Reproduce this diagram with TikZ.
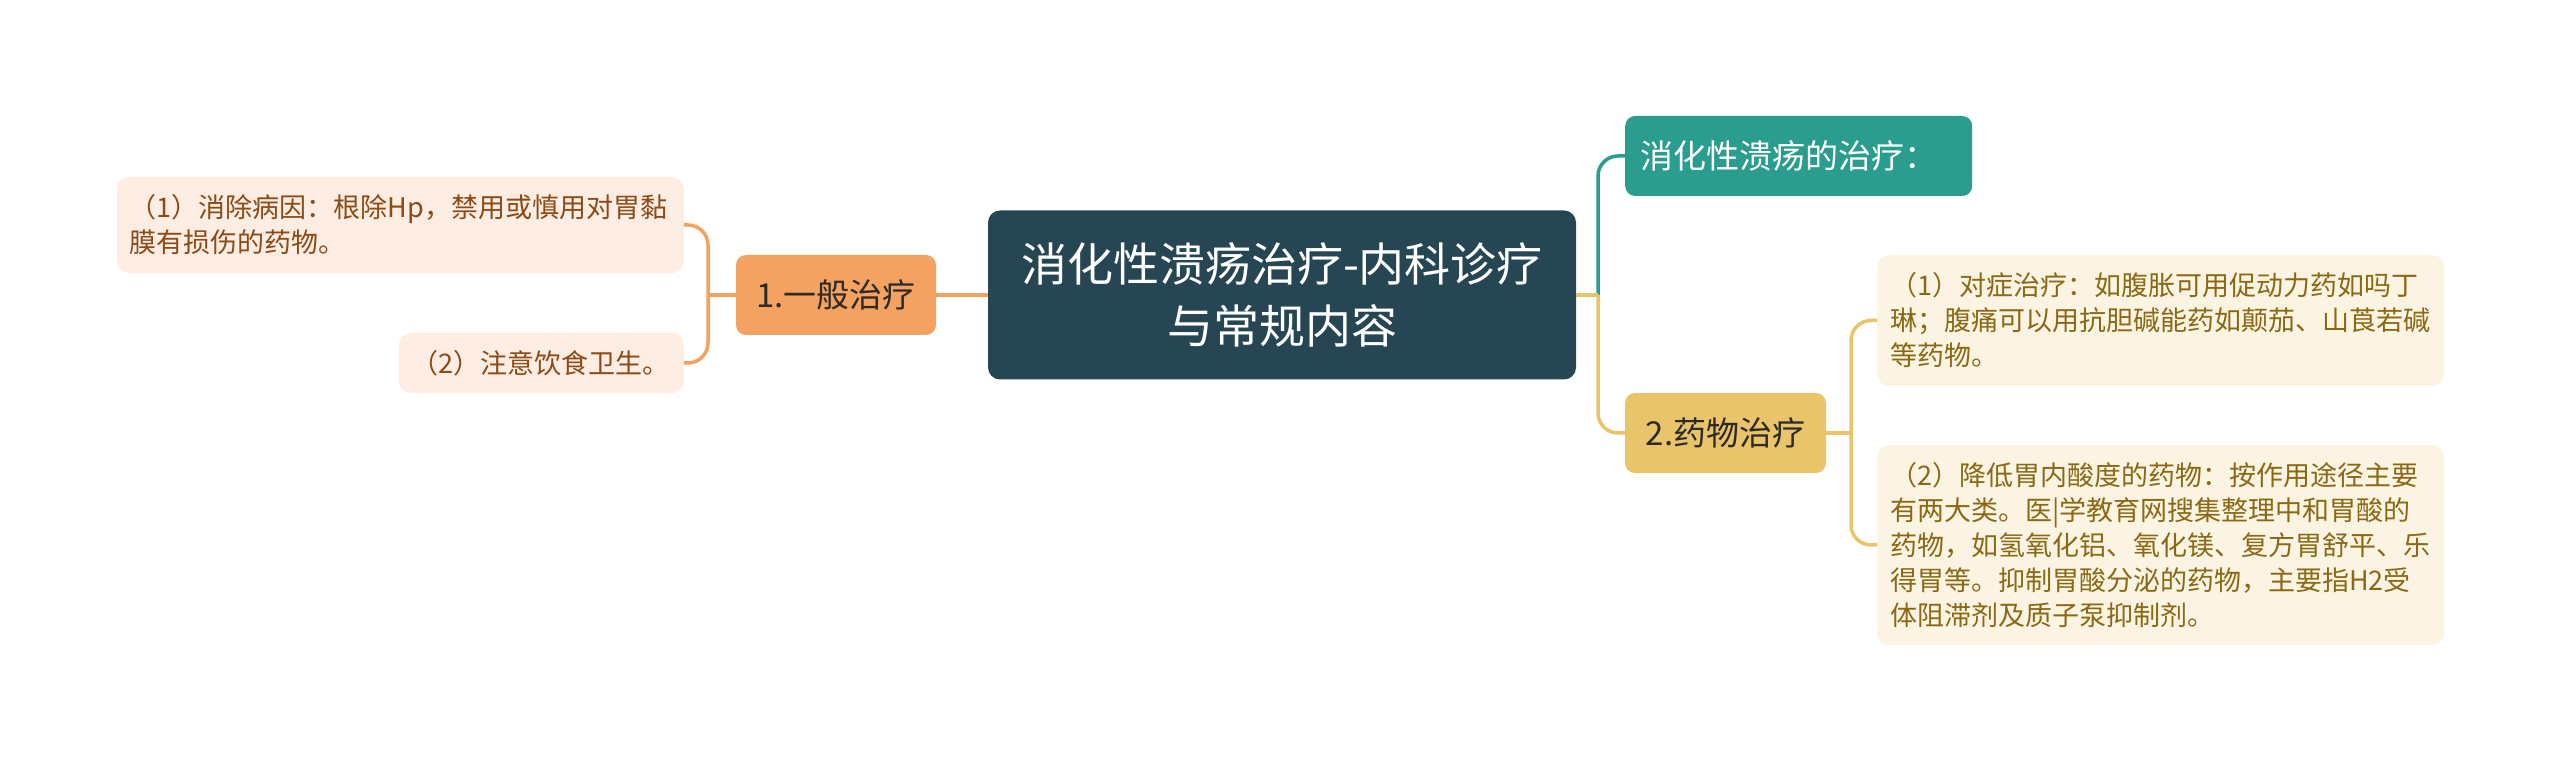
\documentclass[tikz,border=0pt]{standalone}
\usepackage{fontspec}
\setmainfont{Noto Sans CJK SC}
\usepackage{xcolor}
\usetikzlibrary{positioning}
\definecolor{rootc}{HTML}{264653}
\definecolor{tealc}{HTML}{2A9D8F}
\definecolor{yelc}{HTML}{E9C46A}
\definecolor{orc}{HTML}{F4A261}
\definecolor{leafof}{HTML}{FEEDE2}
\definecolor{leafot}{HTML}{8C4A16}
\definecolor{leafyf}{HTML}{FBF4E3}
\definecolor{leafyt}{HTML}{8B6914}
\definecolor{darkt}{HTML}{2E2A25}

\begin{document}
\begin{tikzpicture}[x=1pt, y=1pt,
rootbox/.style={fill=rootc, rounded corners=12pt, text=white, align=center, inner sep=0pt, minimum width=588pt, minimum height=169pt, font=\fontsize{46}{62}\selectfont},
topic/.style={rounded corners=10pt, inner sep=0pt, minimum height=80pt, font=\fontsize{33}{40}\selectfont},
leaf/.style={rounded corners=12pt, inner xsep=13pt, inner ysep=0pt, align=left, font=\fontsize{27}{35}\selectfont},
leafo/.style={leaf, fill=leafof, text=leafot},
leafy/.style={leaf, fill=leafyf, text=leafyt},
lo/.style={draw=orc, line width=3.5pt, rounded corners=20pt},
ly/.style={draw=yelc, line width=3.5pt, rounded corners=20pt},
lt/.style={draw=tealc, line width=3.5pt, rounded corners=20pt}]
\useasboundingbox (0,0) rectangle (2560,761);
\node[rootbox] (root) at (1282,466) {消化性溃疡治疗-内科诊疗\\与常规内容};
\node[topic, fill=orc, text=darkt, minimum width=200pt] (gen) at (836,466) {1.一般治疗};
\node[topic, fill=tealc, text=white, anchor=west, inner xsep=15pt, text width=317pt, align=left] (cure) at (1625,605) {消化性溃疡的治疗：};
\node[topic, fill=yelc, text=darkt, minimum width=201pt] (drug) at (1725.5,328) {2.药物治疗};
\node[leafo, anchor=east, text width=541pt, minimum height=96pt] (lc1) at (684,536) {（1）消除病因：根除Hp，禁用或慎用对胃黏\\膜有损伤的药物。};
\node[leafo, anchor=east, text width=259pt, minimum height=60pt] (lc2) at (684,398) {（2）注意饮食卫生。};
\node[leafy, anchor=west, text width=541pt, minimum height=131pt] (rc1) at (1877,440.5) {（1）对症治疗：如腹胀可用促动力药如吗丁\\琳；腹痛可以用抗胆碱能药如颠茄、山莨若碱\\等药物。};
\node[leafy, anchor=west, text width=541pt, minimum height=200pt] (rc2) at (1877,216) {（2）降低胃内酸度的药物：按作用途径主要\\有两大类。医|学教育网搜集整理中和胃酸的\\药物，如氢氧化铝、氧化镁、复方胃舒平、乐\\得胃等。抑制胃酸分泌的药物，主要指H2受\\体阻滞剂及质子泵抑制剂。};
\coordinate (rj) at (1598,466);
\coordinate (lj) at (708,466);
\coordinate (dj) at (1851,328);
\draw[lt] (rj) |- (cure.west);
\draw[ly] (rj) |- (drug.west);
\draw[ly] (root.east) -- (rj);
\draw[lo] (root.west) -- (gen.east);
\draw[lo] (gen.west) -- (lj);
\foreach \j in {lc1,lc2}{\draw[lo] (lj) |- (\j.east);}
\draw[ly] (drug.east) -- (dj);
\foreach \j in {rc1,rc2}{\draw[ly] (dj) |- (\j.west);}
\end{tikzpicture}
\end{document}
